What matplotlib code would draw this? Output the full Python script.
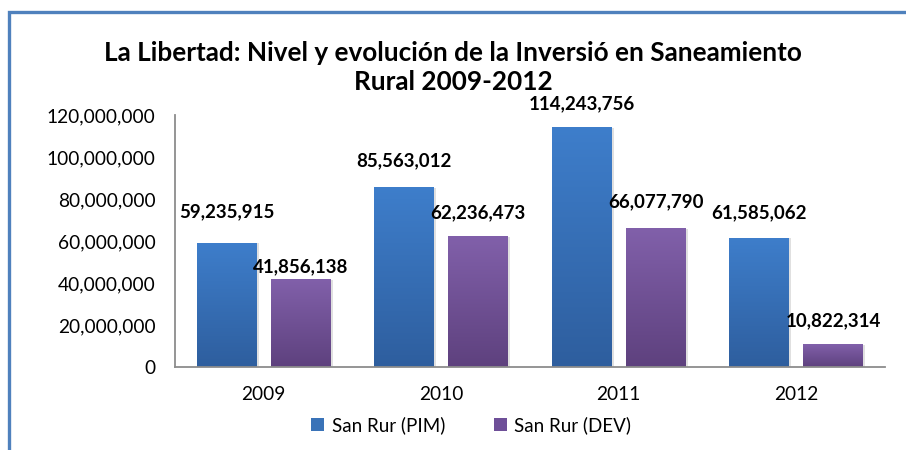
import numpy as np
import matplotlib.pyplot as plt
from matplotlib.patches import Rectangle, Patch
from matplotlib.colors import LinearSegmentedColormap
from matplotlib.ticker import FuncFormatter

# datos
years = ["2009", "2010", "2011", "2012"]
pim = [59235915, 85563012, 114243756, 61585062]
dev = [41856138, 62236473, 66077790, 10822314]
series_names = ["San Rur (PIM)", "San Rur (DEV)"]

# desplazamiento vertical de cada etiqueta (puntos), como en el original
pim_label_dy = [22, 19, 17, 18]
dev_label_dy = [9, 17, 19, 17]

plt.rcParams['font.family'] = ['Lato', 'DejaVu Sans']

fig = plt.figure(figsize=(9.06, 4.5), dpi=100)
ax = fig.add_axes([0.1932, 0.1844, 0.7836, 0.56])

x = np.arange(len(years))
w = 0.338
off = 0.208

blue_cmap = LinearSegmentedColormap.from_list("b", ["#2E5E9E", "#3E7ECB"])
purple_cmap = LinearSegmentedColormap.from_list("p", ["#5E417E", "#8160AA"])
grad = np.linspace(0, 1, 256).reshape(-1, 1)


def gradient_bars(bars, cmap):
    for b in bars:
        x0, y0 = b.get_x(), b.get_y()
        x1, y1 = x0 + b.get_width(), y0 + b.get_height()
        # sombra suave
        ax.add_patch(Rectangle((x0 + 0.012, y0), b.get_width(), b.get_height() - 300000,
                               facecolor="#000000", alpha=0.12, edgecolor="none", zorder=1))
        im = ax.imshow(grad, cmap=cmap, aspect="auto", origin="lower",
                       extent=[x0, x1, y0, y1], zorder=2)
        im.set_clip_path(b)
        b.set_facecolor("none")


b1 = ax.bar(x - off, pim, w, edgecolor="none", zorder=2)
b2 = ax.bar(x + off, dev, w, edgecolor="none", zorder=2)
gradient_bars(b1, blue_cmap)
gradient_bars(b2, purple_cmap)

for bars, vals, dys in [(b1, pim, pim_label_dy), (b2, dev, dev_label_dy)]:
    for b, v, dy in zip(bars, vals, dys):
        ax.annotate(f"{v:,}", (b.get_x() + b.get_width() / 2, v),
                    xytext=(0, dy), textcoords="offset points",
                    ha="center", va="center", fontsize=13.5, fontweight="bold",
                    annotation_clip=False, zorder=5)

ax.set_xlim(-0.5, 3.5)
ax.set_ylim(0, 120000000)
ax.set_yticks(np.arange(0, 120000001, 20000000))
ax.yaxis.set_major_formatter(FuncFormatter(lambda v, p: f"{int(v):,}"))
ax.set_xticks(x)
ax.set_xticklabels(years)
ax.tick_params(axis="both", length=0, labelsize=13.8)
ax.tick_params(axis="y", pad=14)
ax.tick_params(axis="x", pad=14)

for s in ["top", "right"]:
    ax.spines[s].set_visible(False)
for s in ["left", "bottom"]:
    ax.spines[s].set_color("#8C8C8C")
    ax.spines[s].set_linewidth(1.3)

fig.text(0.5, 0.85, "La Libertad: Nivel y evolución de la Inversió en Saneamiento\nRural 2009-2012",
         ha="center", va="center", fontsize=18.8, fontweight="bold", linespacing=1.24)

handles = [Patch(facecolor="#3A73B8", edgecolor="none"),
           Patch(facecolor="#6E4F98", edgecolor="none")]
fig.legend(handles, series_names, loc="center", bbox_to_anchor=(0.52, 0.056), ncol=2,
           frameon=False, fontsize=13.5, handlelength=0.7, handleheight=0.7,
           handletextpad=0.4, columnspacing=2.6)

# marco azul
fig.patches.append(Rectangle((9 / 906, -0.2), 1.5, 1.2 - 12 / 450, transform=fig.transFigure,
                             fill=False, edgecolor="#4F81BD", linewidth=2.4, zorder=0))

fig.savefig("out.png", dpi=100)
